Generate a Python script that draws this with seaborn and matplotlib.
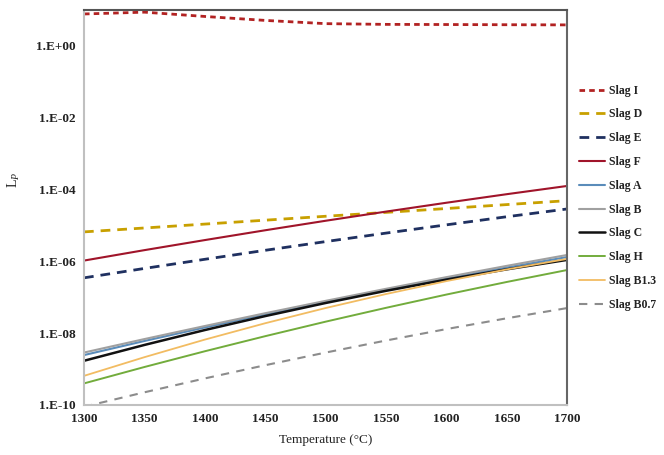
import numpy as np
import pandas as pd
import matplotlib
matplotlib.use("Agg")
import matplotlib.pyplot as plt
import seaborn as sns
from matplotlib.ticker import FixedLocator, NullLocator

temperature = [1300, 1350, 1400, 1450, 1500, 1550, 1600, 1650, 1700]

slag_I = [7.76, 8.71, 6.61, 5.13, 4.17, 3.98, 3.94, 3.89, 3.85]
slag_D = [6.61e-6, 8.49e-6, 1.09e-5, 1.40e-5, 1.80e-5, 2.31e-5, 2.96e-5, 3.81e-5, 4.90e-5]
slag_E = [3.47e-7, 6.34e-7, 1.14e-6, 2.03e-6, 3.55e-6, 6.12e-6, 1.04e-5, 1.75e-5, 2.88e-5]
slag_F = [1.05e-6, 2.05e-6, 3.91e-6, 7.34e-6, 1.35e-5, 2.43e-5, 4.29e-5, 7.43e-5, 1.26e-4]
slag_A = [2.45e-9, 6.05e-9, 1.44e-8, 3.33e-8, 7.41e-8, 1.60e-7, 3.34e-7, 6.75e-7, 1.32e-6]
slag_B = [2.88e-9, 6.84e-9, 1.58e-8, 3.59e-8, 7.94e-8, 1.72e-7, 3.63e-7, 7.50e-7, 1.51e-6]
slag_C = [1.70e-9, 4.69e-9, 1.22e-8, 2.99e-8, 6.92e-8, 1.51e-7, 3.10e-7, 6.00e-7, 1.10e-6]
slag_H = [3.98e-10, 1.14e-9, 3.13e-9, 8.24e-9, 2.09e-8, 5.08e-8, 1.19e-7, 2.67e-7, 5.75e-7]
slag_B13 = [6.46e-10, 2.14e-9, 6.61e-9, 1.89e-8, 5.01e-8, 1.23e-7, 2.82e-7, 5.97e-7, 1.17e-6]
slag_B07 = [8.91e-11, 2.25e-10, 5.48e-10, 1.28e-9, 2.88e-9, 6.24e-9, 1.30e-8, 2.60e-8, 5.01e-8]

series_names = ["Slag I", "Slag D", "Slag E", "Slag F", "Slag A", "Slag B",
                "Slag C", "Slag H", "Slag B1.3", "Slag B0.7"]
series_values = [slag_I, slag_D, slag_E, slag_F, slag_A, slag_B,
                 slag_C, slag_H, slag_B13, slag_B07]

y_ticks = [1e-10, 1e-8, 1e-6, 1e-4, 1e-2, 1e0]
y_tick_labels = ["1.E-10", "1.E-08", "1.E-06", "1.E-04", "1.E-02", "1.E+00"]
x_ticks = [1300, 1350, 1400, 1450, 1500, 1550, 1600, 1650, 1700]

rows = []
for name, vals in zip(series_names, series_values):
    for t, v in zip(temperature, vals):
        rows.append({"Temperature": t, "Lp": v, "Slag": name})
df = pd.DataFrame(rows)

styles = {
    "Slag I":    dict(color="#B22222", ls=(0, (2.0, 1.5)), lw=2.0),
    "Slag D":    dict(color="#C8A000", ls=(0, (3.5, 2.5)), lw=2.0),
    "Slag E":    dict(color="#1F3060", ls=(0, (3.5, 2.5)), lw=2.0),
    "Slag F":    dict(color="#A0142A", ls="-", lw=1.5),
    "Slag A":    dict(color="#5A8CBA", ls="-", lw=1.5),
    "Slag B":    dict(color="#A0A0A0", ls="-", lw=1.5),
    "Slag C":    dict(color="#111111", ls="-", lw=1.8),
    "Slag H":    dict(color="#72AC3C", ls="-", lw=1.4),
    "Slag B1.3": dict(color="#F2BC62", ls="-", lw=1.3),
    "Slag B0.7": dict(color="#8C8C8C", ls=(0, (4, 3.5)), lw=1.5),
}

sns.set_style("white")
plt.rcParams["font.family"] = ["Liberation Serif", "DejaVu Serif"]
plt.rcParams["mathtext.fontset"] = "custom"
plt.rcParams["mathtext.rm"] = "Liberation Serif"
plt.rcParams["mathtext.it"] = "Liberation Serif:italic"

fig = plt.figure(figsize=(6.64, 4.55), dpi=100)
ax = fig.add_axes([0.1265, 0.110, 0.728, 0.868])

for name in series_names:
    st = styles[name]
    sub = df[df["Slag"] == name]
    sns.lineplot(data=sub, x="Temperature", y="Lp", ax=ax, color=st["color"],
                 linestyle=st["ls"], linewidth=st["lw"], label=name,
                 estimator=None, sort=True)

ax.set_yscale("log")
ax.set_ylim(1e-10, 1e1)
ax.set_xlim(1300, 1700)
ax.yaxis.set_major_locator(FixedLocator(y_ticks))
ax.yaxis.set_minor_locator(NullLocator())
ax.set_yticks(y_ticks)
ax.set_yticklabels(y_tick_labels)
ax.set_xticks(x_ticks)
ax.set_xticklabels([str(t) for t in x_ticks])
ax.tick_params(axis="both", length=0, labelsize=9.5, colors="#222222", pad=6)
for lbl in ax.get_xticklabels() + ax.get_yticklabels():
    lbl.set_fontweight("bold")

ax.set_xlabel("Temperature (°C)", fontsize=9.5, color="#222222", labelpad=6)
ax.set_ylabel(r"L$_P$", fontsize=10, color="#222222")
ax.yaxis.set_label_coords(-0.128, 0.57)

ax.spines["left"].set_color("#C0C0C0")
ax.spines["bottom"].set_color("#C0C0C0")
ax.spines["top"].set_color("#555555")
ax.spines["right"].set_color("#666666")
for s in ax.spines.values():
    s.set_linewidth(1.5)

leg = ax.legend(loc="upper left", bbox_to_anchor=(1.015, 0.823), frameon=False,
                fontsize=8.5, handlelength=2.2, handletextpad=0.3,
                labelspacing=1.0, borderaxespad=0.0)
for txt in leg.get_texts():
    txt.set_fontweight("bold")
    txt.set_color("#222222")

fig.savefig("out.png", dpi=100)
